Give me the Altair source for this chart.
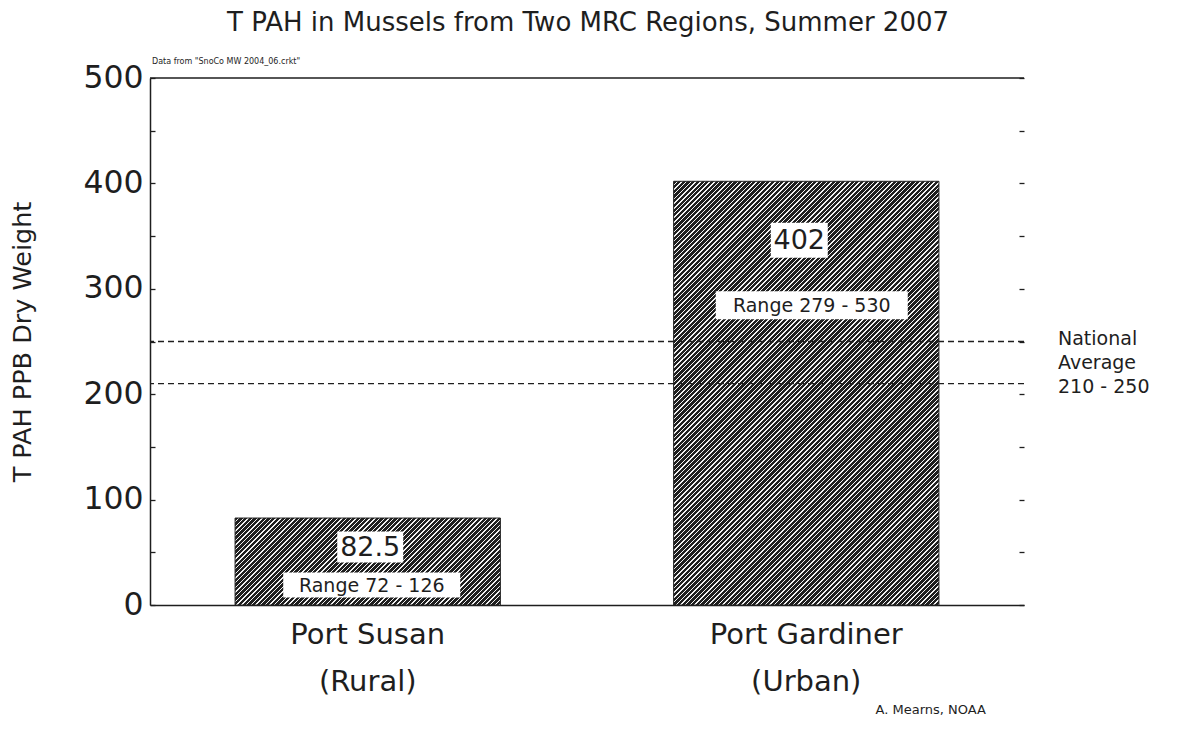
import altair as alt
import pandas as pd

# ---------------- data ----------------
regions = ["Port Susan\n(Rural)", "Port Gardiner\n(Urban)"]
tpah = [82.5, 402]
range_lo = [72, 279]
range_hi = [126, 530]
natl_lo, natl_hi = 210, 250
y_major = [0, 100, 200, 300, 400, 500]
y_minor = [0, 50, 100, 150, 200, 250, 300, 350, 400, 450, 500]

title_text = "T PAH in Mussels from Two MRC Regions, Summer 2007"
y_title = "T PAH PPB Dry Weight"
source_note = 'Data from "SnoCo MW 2004_06.crkt"'
credit = "A. Mearns, NOAA"

# ---------------- layout / style ----------------
W_PLOT, H_PLOT = 874, 527
P_IN, P_OUT = 0.395, 0.194
Y_MAX = 500
FONT = "DejaVu Sans"
INK = "#1e1e1e"

bars = pd.DataFrame({"region": regions, "tpah": tpah, "idx": [0, 1]})

x_enc_scale = alt.Scale(paddingInner=P_IN, paddingOuter=P_OUT)
y_scale = alt.Scale(domain=[0, Y_MAX], nice=False, zero=True)

step = W_PLOT / (len(regions) - P_IN + 2 * P_OUT)
band_w = step * (1 - P_IN)


def hatch(W, H, period=4.7, dark_frac=0.7, dark="#1f1f1f", light="#f2f2f2"):
    a = (W + H) * W / (W * W + H * H)
    n = max(1, int(round((W + H) / period)))
    stops = []
    for k in range(n):
        o0 = k / n
        o1 = (k + dark_frac) / n
        o2 = (k + 1) / n
        stops += [
            {"offset": o0, "color": dark},
            {"offset": o1, "color": dark},
            {"offset": o1, "color": light},
            {"offset": o2, "color": light},
        ]
    return {"gradient": "linear", "x1": 0, "y1": 0, "x2": a, "y2": a * H / W,
            "stops": stops}


x_axis = alt.Axis(
    title=None, labelAngle=0, ticks=False, domain=True, domainColor=INK,
    domainWidth=1.5, labelFont=FONT, labelFontSize=29, labelColor=INK,
    labelPadding=15, labelBaseline="top", labelLineHeight=47, labelLimit=500,
    labelExpr="split(datum.label, '\\n')",
)
y_axis_main = alt.Axis(
    values=y_major, title=y_title, ticks=False, domain=True, domainColor=INK,
    domainWidth=1.5, labelFont=FONT, labelFontSize=31.5, labelColor=INK,
    labelPadding=7, titleFont=FONT, titleFontSize=25.5, titleFontWeight="normal",
    titleColor=INK, titleX=-128, titleY=H_PLOT / 2, titleAngle=270,
    titleBaseline="middle", titleAlign="center", grid=False,
)

layers = []
for i in range(len(regions)):
    H = tpah[i] / Y_MAX * H_PLOT
    layers.append(
        alt.Chart(bars)
        .transform_filter(alt.datum.idx == i)
        .mark_bar(fill=hatch(band_w, H), stroke="#222222", strokeWidth=1)
        .encode(
            x=alt.X("region:N", sort=regions, scale=x_enc_scale,
                    axis=x_axis if i == 0 else None),
            y=alt.Y("tpah:Q", scale=y_scale,
                    axis=y_axis_main if i == 0 else None),
        )
    )

# dashed national average lines; inward ticks on the left edge
natl = pd.DataFrame({"v": [natl_lo, natl_hi]})
layers.append(
    alt.Chart(natl)
    .mark_rule(strokeDash=[6, 4], color=INK, strokeWidth=1.3)
    .encode(y=alt.Y("v:Q", scale=y_scale,
                    axis=alt.Axis(orient="right", offset=-W_PLOT, values=y_minor,
                                  labels=False, domain=False, ticks=True,
                                  tickSize=5, tickColor=INK, tickWidth=1.3,
                                  title=None, grid=False)))
)

# top frame line; inward ticks on the right edge
layers.append(
    alt.Chart(pd.DataFrame({"v": [Y_MAX]}))
    .mark_rule(color=INK, strokeWidth=1.5)
    .encode(y=alt.Y("v:Q", scale=y_scale,
                    axis=alt.Axis(orient="left", offset=-W_PLOT, values=y_minor,
                                  labels=False, domain=False, ticks=True,
                                  tickSize=5, tickColor=INK, tickWidth=1.3,
                                  title=None, grid=False)))
)

# labels inside bars with white boxes
labels = pd.DataFrame({
    "region": [regions[0], regions[0], regions[1], regions[1]],
    "anchor": [tpah[0], tpah[0], tpah[1], tpah[1]],
    "text": [f"{tpah[0]:g}", f"Range {range_lo[0]} - {range_hi[0]}",
             f"{tpah[1]:g}", f"Range {range_lo[1]} - {range_hi[1]}"],
    "k": [0, 1, 2, 3],
})
label_style = [
    dict(dx=2.5, dy=29, bw=66, bh=31, fs=27),
    dict(dx=4, dy=67, bw=177, bh=25, fs=19),
    dict(dx=-7, dy=59, bw=57, bh=35, fs=27),
    dict(dx=5.5, dy=124, bw=192, bh=28, fs=19),
]
for k, st in enumerate(label_style):
    base = alt.Chart(labels).transform_filter(alt.datum.k == k)
    enc = dict(
        x=alt.X("region:N", sort=regions, scale=x_enc_scale, axis=None),
        y=alt.Y("anchor:Q", scale=y_scale, axis=None),
    )
    h = st["bh"] / st["bw"]
    box_path = f"M-1,-{h:.4f}L1,-{h:.4f}L1,{h:.4f}L-1,{h:.4f}Z"
    layers.append(
        base.mark_point(shape=box_path, size=st["bw"] ** 2, filled=True,
                        fill="white", opacity=1, strokeWidth=0,
                        xOffset=st["dx"], yOffset=st["dy"]).encode(**enc)
    )
    layers.append(
        base.mark_text(font=FONT, fontSize=st["fs"], color=INK,
                       baseline="middle", align="center",
                       xOffset=st["dx"], yOffset=st["dy"] + 1)
        .encode(text="text:N", **enc)
    )

one = pd.DataFrame({"_": [0]})
layers.append(
    alt.Chart(one).mark_text(font=FONT, fontSize=19, color=INK, align="left",
                             baseline="middle", lineBreak="\n", lineHeight=24,
                             yOffset=-3)
    .encode(x=alt.value(W_PLOT + 34),
            y=alt.Y(datum=natl_hi, scale=y_scale, axis=None),
            text=alt.value(f"National\nAverage\n{natl_lo} - {natl_hi}"))
)
# chart title
layers.append(
    alt.Chart(one).mark_text(font=FONT, fontSize=26, color=INK, align="center",
                             baseline="middle")
    .encode(x=alt.value(W_PLOT / 2 + 1), y=alt.value(-55),
            text=alt.value(title_text))
)
layers.append(
    alt.Chart(one).mark_text(font=FONT, fontSize=8, color=INK, align="left",
                             baseline="middle")
    .encode(x=alt.value(2), y=alt.value(-16), text=alt.value(source_note))
)
layers.append(
    alt.Chart(one).mark_text(font=FONT, fontSize=13, color=INK, align="right",
                             baseline="middle")
    .encode(x=alt.value(836), y=alt.value(632), text=alt.value(credit))
)

chart = (
    alt.layer(*layers)
    .resolve_axis(x="independent", y="independent")
    .properties(
        width=W_PLOT, height=H_PLOT,
        autosize=alt.AutoSizeParams(type="none"),
        padding={"left": 142, "top": 70, "right": 140, "bottom": 120},
        background="white",
    )
    .configure_view(stroke=None)
)

chart.save("out.html", embed_options={"renderer": "svg", "actions": False})
